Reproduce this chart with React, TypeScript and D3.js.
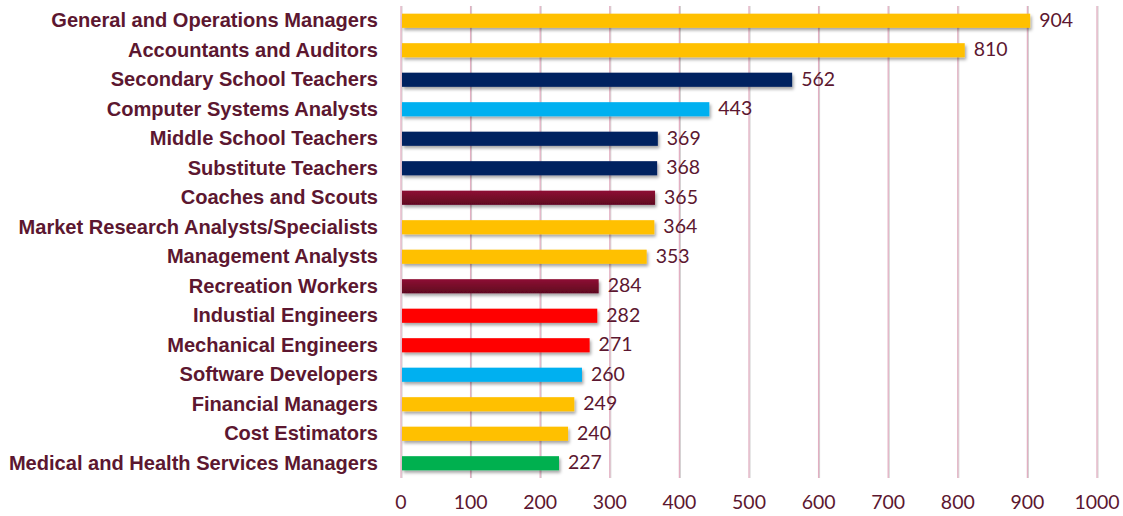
import React from "react";
import * as d3 from "d3";

const categories = [
  "General and Operations Managers",
  "Accountants and Auditors",
  "Secondary School Teachers",
  "Computer Systems Analysts",
  "Middle School Teachers",
  "Substitute Teachers",
  "Coaches and Scouts",
  "Market Research Analysts/Specialists",
  "Management Analysts",
  "Recreation Workers",
  "Industial Engineers",
  "Mechanical Engineers",
  "Software Developers",
  "Financial Managers",
  "Cost Estimators",
  "Medical and Health Services Managers",
];
const values = [904, 810, 562, 443, 369, 368, 365, 364, 353, 284, 282, 271, 260, 249, 240, 227];
const groups = [
  "business", "business", "education", "tech", "education", "education", "recreation", "business",
  "business", "recreation", "engineering", "engineering", "tech", "business", "business", "health",
];
const ticks = [0, 100, 200, 300, 400, 500, 600, 700, 800, 900, 1000];

const colorMap: Record<string, string> = {
  business: "#FFC000",
  education: "#002060",
  tech: "#00B0F0",
  recreation: "#7A0A2C",
  engineering: "#FF0000",
  health: "#00B050",
};

const W = 1123;
const H = 516;
const x0 = 401;
const x1 = 1097;
const yTop = 6;
const yBot = 478;
const textColor = "#5C1730";

export default function App() {
  const x = d3.scaleLinear().domain([0, 1000]).range([x0, x1]);
  const y = d3.scaleBand().domain(categories).range([yTop, yBot]).paddingInner(0.52).paddingOuter(0.26);
  const data = categories.map((c, i) => ({ c, v: values[i], g: groups[i] }));
  return (
    <svg width={W} height={H} style={{ position: "absolute", left: 0, top: 0 }}>
      <defs>
        <filter id="sh" x="-5%" y="-50%" width="110%" height="250%">
          <feDropShadow dx="1.5" dy="2.5" stdDeviation="1.5" floodColor="#000" floodOpacity="0.35" />
        </filter>
        <linearGradient id="maroon" x1="0" y1="0" x2="0" y2="1">
          <stop offset="0" stopColor="#8E0B33" />
          <stop offset="1" stopColor="#5E0620" />
        </linearGradient>
      </defs>
      <rect width={W} height={H} fill="#fff" />
      {ticks.map((t) => (
        <g key={t}>
          <line x1={x(t) + 1} x2={x(t) + 1} y1={yTop} y2={yBot} stroke="#cfcfcf" strokeWidth={1} />
          <line x1={x(t)} x2={x(t)} y1={yTop} y2={yBot} stroke="#E2AFC2" strokeWidth={1.3} />
          <text x={x(t)} y={504} textAnchor="middle" dominantBaseline="middle" fontFamily="Lato, 'Open Sans', sans-serif" fontSize={19.5} fill={textColor}>
            {t}
          </text>
        </g>
      ))}
      {data.map((d) => {
        const yy = y(d.c)!;
        const bh = y.bandwidth();
        const cy = yy + bh / 2;
        return (
          <g key={d.c}>
            <rect
              x={x(0) + 1}
              y={yy}
              width={x(d.v) - x(0) - 1}
              height={bh}
              fill={d.g === "recreation" ? "url(#maroon)" : colorMap[d.g]}
              filter="url(#sh)"
            />
            <text x={x(d.v) + 9} y={cy + 1} dominantBaseline="middle" fontFamily="Lato, 'Open Sans', sans-serif" fontSize={19.5} fill={textColor}>
              {d.v}
            </text>
            <text
              transform={`translate(378,${cy + 1}) scale(0.956,1)`}
              textAnchor="end"
              dominantBaseline="middle"
              fontFamily="'Liberation Sans', Arial, sans-serif"
              fontWeight="bold"
              fontSize={21}
              fill={textColor}
            >
              {d.c}
            </text>
          </g>
        );
      })}
    </svg>
  );
}
